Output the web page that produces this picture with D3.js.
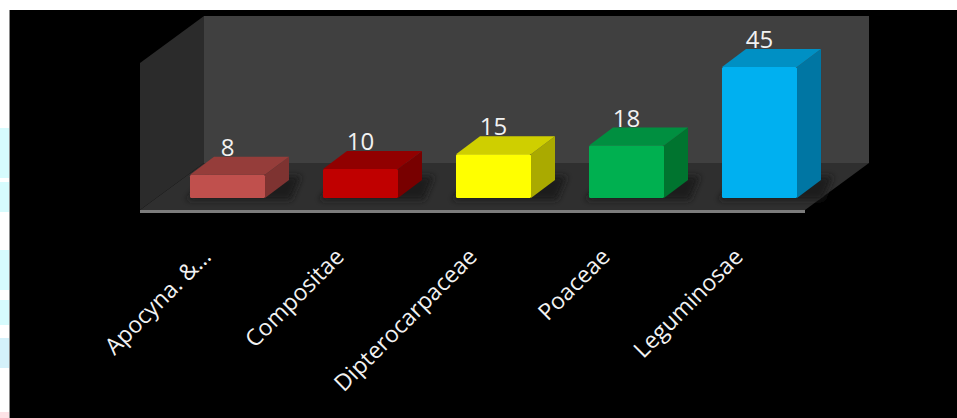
<!DOCTYPE html>
<html>
<head>
<meta charset="utf-8">
<script src="https://cdn.jsdelivr.net/npm/d3@7"></script>
<style>
  html, body { margin: 0; padding: 0; background: #ffffff; }
  svg { display: block; }
</style>
</head>
<body>
<svg id="chart" width="957" height="418"></svg>
<script>
// ---- data ----
const categories = ["Apocyna. &…", "Compositae", "Dipterocarpaceae", "Poaceae", "Leguminosae"];
const values = [8, 10, 15, 18, 45];
const frontColors = ["#c0504d", "#c00000", "#ffff00", "#00b050", "#00b0f0"];
const topColors   = ["#953d3a", "#910000", "#cfcf00", "#008f40", "#0090c4"];
const sideColors  = ["#7e3331", "#780000", "#aaaa00", "#00742f", "#0076a3"];

// ---- layout ----
const W = 957, H = 418;
const FLOOR_FRONT_Y = 210, FLOOR_BACK_Y = 163;
const FRONT_X0 = 140, FRONT_X1 = 805;
const DEPTH_DX = 64, DEPTH_DY = -47;
const WALL_TOP_BACK = 16;
const BAR_DX = 24, BAR_DY = -18;
const BASE_Y = 198;

const svg = d3.select("#chart");

// page background + left decorations
svg.append("rect").attr("x", 0).attr("y", 0).attr("width", W).attr("height", H).attr("fill", "#ffffff");
[[128, 50], [182, 30], [250, 40], [300, 25], [338, 30]].forEach(([y, h], i) => {
  svg.append("rect").attr("x", 0).attr("y", y).attr("width", 9).attr("height", h)
    .attr("fill", i === 4 ? "#d4f1fa" : "#d6fbfd");
});
svg.append("rect").attr("x", 0).attr("y", 412).attr("width", 9).attr("height", 6).attr("fill", "#fde2e6");

// black panel
svg.append("rect").attr("x", 9).attr("y", 10).attr("width", W - 9).attr("height", H - 10).attr("fill", "#000000");
svg.append("line").attr("x1", 9.5).attr("x2", 9.5).attr("y1", 10).attr("y2", H)
  .attr("stroke", "#8a8a8a").attr("stroke-width", 1);

// walls & floor
const bx0 = FRONT_X0 + DEPTH_DX, bx1 = FRONT_X1 + DEPTH_DX;
svg.append("rect").attr("x", bx0).attr("y", WALL_TOP_BACK)
  .attr("width", bx1 - bx0).attr("height", FLOOR_BACK_Y - WALL_TOP_BACK).attr("fill", "#404040");
svg.append("polygon")
  .attr("points", [[FRONT_X0, WALL_TOP_BACK - DEPTH_DY], [bx0, WALL_TOP_BACK], [bx0, FLOOR_BACK_Y], [FRONT_X0, FLOOR_FRONT_Y]].map(p => p.join(",")).join(" "))
  .attr("fill", "#2b2b2b");
svg.append("polygon")
  .attr("points", [[FRONT_X0, FLOOR_FRONT_Y], [FRONT_X1, FLOOR_FRONT_Y], [bx1, FLOOR_BACK_Y], [bx0, FLOOR_BACK_Y]].map(p => p.join(",")).join(" "))
  .attr("fill", "#2f2f2f");
svg.append("rect").attr("x", FRONT_X0).attr("y", FLOOR_FRONT_Y).attr("width", FRONT_X1 - FRONT_X0).attr("height", 3)
  .attr("fill", "#7c7c7c");

// scales
const x = d3.scaleBand().domain(categories).range([161, 826]).paddingInner(0.436).paddingOuter(0.218);
const y = d3.scaleLinear().domain([0, 50]).range([BASE_Y, BASE_Y - 145.5]);
const bw = x.bandwidth();

// shadows
const defs = svg.append("defs");
defs.append("filter").attr("id", "blur").attr("x", "-50%").attr("y", "-50%").attr("width", "200%").attr("height", "200%")
  .append("feGaussianBlur").attr("stdDeviation", 3);

const data = categories.map((c, i) => ({ c, v: values[i], i }));

svg.append("g").selectAll("polygon").data(data).join("polygon")
  .attr("points", d => {
    const x0 = x(d.c) - 4, x1 = x(d.c) + bw + BAR_DX + 12;
    return [[x0, BASE_Y + 2], [x1 - 10, BASE_Y + 2], [x1, BASE_Y + BAR_DY - 4], [x0 + BAR_DX, BASE_Y + BAR_DY - 4]].map(p => p.join(",")).join(" ");
  })
  .attr("fill", "#1c1c1c").attr("filter", "url(#blur)");

// bars
const bars = svg.append("g").selectAll("g").data(data).join("g");
bars.append("polygon")
  .attr("points", d => {
    const x0 = x(d.c), yt = y(d.v);
    return [[x0 + bw, yt], [x0 + bw + BAR_DX, yt + BAR_DY], [x0 + bw + BAR_DX, BASE_Y + BAR_DY], [x0 + bw, BASE_Y]].map(p => p.join(",")).join(" ");
  })
  .attr("fill", d => sideColors[d.i]);
bars.append("polygon")
  .attr("points", d => {
    const x0 = x(d.c), yt = y(d.v);
    return [[x0, yt], [x0 + BAR_DX, yt + BAR_DY], [x0 + bw + BAR_DX, yt + BAR_DY], [x0 + bw, yt]].map(p => p.join(",")).join(" ");
  })
  .attr("fill", d => topColors[d.i]);
bars.append("rect")
  .attr("x", d => x(d.c)).attr("y", d => y(d.v))
  .attr("width", bw).attr("height", d => BASE_Y - y(d.v))
  .attr("rx", 1.5)
  .attr("fill", d => frontColors[d.i]);

// value labels
svg.append("g").selectAll("text").data(data).join("text")
  .attr("x", d => x(d.c) + bw / 2)
  .attr("y", d => y(d.v) + BAR_DY - 1)
  .attr("text-anchor", "middle")
  .attr("font-family", "'Open Sans', sans-serif")
  .attr("font-size", 24)
  .attr("fill", "#f2f2f2")
  .text(d => d.v);

// category labels
svg.append("g").selectAll("text").data(data).join("text")
  .attr("transform", d => `translate(${x(d.c) + bw / 2 - 15},${258}) rotate(-45)`)
  .attr("text-anchor", "end")
  .attr("font-family", "'Open Sans', sans-serif")
  .attr("font-size", 23)
  .attr("fill", "#f2f2f2")
  .text(d => d.c);
</script>
</body>
</html>
